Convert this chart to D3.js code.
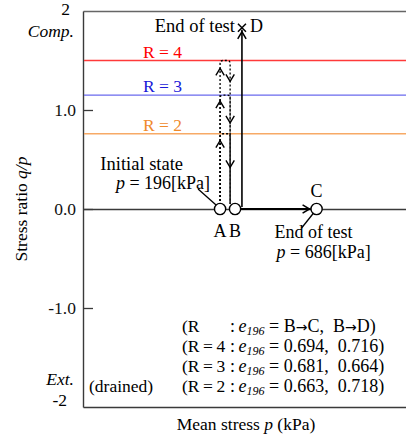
<!DOCTYPE html>
<html><head><meta charset="utf-8">
<script src="https://cdn.jsdelivr.net/npm/d3@7"></script>
<style>
html,body{margin:0;padding:0;background:#fff;}
svg{display:block;font-family:"Liberation Serif","Times New Roman",serif;}
text{white-space:pre;}
</style></head>
<body><svg id="c" width="406" height="439"></svg>
<script>
// ---------------- data ----------------
const yTickValues = [1.0, 0.0, -1.0];
const yTickLabels = ["1.0", "0.0", "-1.0"];
const rLabels = ["R = 4", "R = 3", "R = 2"];
const rStressRatio = [1.5, 1.15, 0.76];
const rTextColors = ["#ff0000", "#1a1ad8", "#f08a2c"];
const rLineColors = ["#ff3a3a", "#6a6aee", "#f7aa66"];
// schematic mean-stress positions (kPa)
const pointNames = ["A", "B", "C"];
const pointP = [196, 272, 686];
const pointQP = [0, 0, 0];
const dottedUpP = 196, dottedDownP = 247;        // cyclic loading paths (A -> R level -> B)
const upArrowQP = [1.42, 1.09, 0.69];
const downArrowQP = [1.29, 0.87, 0.42];
const pathD_P = 307, pathD_QP = 1.83;             // B -> D (end of test)
const legendPrefix = ["(R", "(R\u2009=\u20094", "(R\u2009=\u20093", "(R\u2009=\u20092"];
const legendValues = [["B|C,", "B|D)"], ["0.694,", "0.716)"], ["0.681,", "0.664)"], ["0.663,", "0.718)"]];

// ---------------- layout ----------------
const svg = d3.select("#c");
const L = 83, R = 406, T = 11, B = 407;
const x = d3.scaleLinear().domain([-500, 1140]).range([L, R]);
const y = d3.scaleLinear().domain([-2, 2]).range([B, T]);
const FS = 17.5;
const axisCol = "#3a3a3a";

// borders / axes
svg.append("g").attr("transform", `translate(0,${T})`)
  .call(d3.axisTop(x).tickValues([]).tickSizeOuter(0))
  .select(".domain").attr("stroke", "#666").attr("stroke-width", 1.6);
svg.append("g").attr("transform", `translate(0,${B})`)
  .call(d3.axisBottom(x).tickValues([]).tickSizeOuter(0))
  .select(".domain").attr("stroke", axisCol).attr("stroke-width", 1.4);
svg.append("g").attr("transform", `translate(0,${y(0)})`)
  .call(d3.axisBottom(x).tickValues([]).tickSizeOuter(0))
  .select(".domain").attr("stroke", axisCol).attr("stroke-width", 1.3);
const ya = svg.append("g").attr("transform", `translate(${L},0)`)
  .call(d3.axisLeft(y).tickValues(yTickValues).tickFormat((d, i) => yTickLabels[i])
    .tickSizeInner(-10).tickSizeOuter(0).tickPadding(7));
ya.select(".domain").attr("stroke", axisCol).attr("stroke-width", 1.4);
ya.selectAll(".tick line").attr("stroke", axisCol).attr("stroke-width", 1.3);
ya.selectAll(".tick text").attr("font-size", FS).attr("font-family", "Liberation Serif").attr("fill", "#111");

// extreme labels
svg.append("text").attr("x", 70).attr("y", y(2) + 4).attr("text-anchor", "end").attr("font-size", FS).text("2");
svg.append("text").attr("x", 74).attr("y", y(2) + 26).attr("text-anchor", "end").attr("font-size", FS).attr("font-style", "italic").text("Comp.");
svg.append("text").attr("x", 74).attr("y", y(-2) - 22).attr("text-anchor", "end").attr("font-size", FS).attr("font-style", "italic").text("Ext.");
svg.append("text").attr("x", 67).attr("y", y(-2) - 1).attr("text-anchor", "end").attr("font-size", FS).text("-2");

// axis titles
const yt = svg.append("text").attr("transform", `translate(27,${y(0)}) rotate(-90)`)
  .attr("text-anchor", "middle").attr("font-size", FS);
yt.append("tspan").text("Stress ratio ");
yt.append("tspan").attr("font-style", "italic").text("q/p");
const xt = svg.append("text").attr("x", 246).attr("y", 430).attr("text-anchor", "middle").attr("font-size", FS);
xt.append("tspan").text("Mean stress ");
xt.append("tspan").attr("font-style", "italic").text("p");
xt.append("tspan").text(" (kPa)");

// R levels
rStressRatio.forEach((v, i) => {
  svg.append("line").attr("x1", L + 1).attr("x2", R).attr("y1", y(v)).attr("y2", y(v))
    .attr("stroke", rLineColors[i]).attr("stroke-width", 1.3);
  svg.append("text").attr("x", 143).attr("y", y(v) - 3).attr("font-size", FS)
    .attr("fill", rTextColors[i]).text(rLabels[i]);
});

// chevron arrow helper
function chevron(tx, ty, dir, sw) {
  const a = 7, h = 4.2;
  let pts;
  if (dir === "up") pts = [[tx - h, ty + a], [tx, ty], [tx + h, ty + a]];
  else if (dir === "down") pts = [[tx - h, ty - a], [tx, ty], [tx + h, ty - a]];
  else pts = [[tx - a, ty - h], [tx, ty], [tx - a, ty + h]];
  svg.append("path").attr("d", d3.line()(pts)).attr("fill", "none")
    .attr("stroke", "#000").attr("stroke-width", sw || 1.4);
}

// cyclic dotted paths, one per R level
const xu = x(dottedUpP), xd = x(dottedDownP), y0 = y(0);
rStressRatio.forEach(v => {
  const yr = y(v);
  const p = d3.path();
  p.moveTo(xu, y0 - 4);
  p.lineTo(xu, yr + 3);
  p.quadraticCurveTo(xu, yr, xu + 3, yr);
  p.lineTo(xd - 3, yr);
  p.quadraticCurveTo(xd, yr, xd, yr + 3);
  p.lineTo(xd, y0 - 5);
  svg.append("path").attr("d", p.toString()).attr("fill", "none")
    .attr("stroke", "#000").attr("stroke-width", 1.3).attr("stroke-dasharray", "2,2");
});
upArrowQP.forEach(v => chevron(xu, y(v), "up"));
downArrowQP.forEach(v => chevron(xd, y(v), "down"));

// B -> D solid path
const xD = x(pathD_P), yD = y(pathD_QP);
svg.append("line").attr("x1", xD).attr("x2", xD).attr("y1", y0 - 2).attr("y2", yD + 2)
  .attr("stroke", "#000").attr("stroke-width", 1.6);
chevron(xD, yD + 4, "up", 1.5);
svg.append("path").attr("d", `M${xD - 4},${yD - 4}L${xD + 4},${yD + 4}M${xD + 4},${yD - 4}L${xD - 4},${yD + 4}`)
  .attr("stroke", "#000").attr("stroke-width", 1.5);
svg.append("text").attr("x", xD - 7).attr("y", yD + 4).attr("text-anchor", "end").attr("font-size", 18.5).text("End of test");
svg.append("text").attr("x", xD + 8).attr("y", yD + 4).attr("font-size", 18).text("D");

// B -> C thick path
const xB = x(pointP[1]), xC = x(pointP[2]);
svg.append("line").attr("x1", xB + 5).attr("x2", xC - 6).attr("y1", y0).attr("y2", y0)
  .attr("stroke", "#000").attr("stroke-width", 2.2);
chevron(xC - 7, y0, "right", 1.5);

// points
const r = 5.6;
pointNames.forEach((n, i) => {
  svg.append("circle").attr("cx", x(pointP[i])).attr("cy", y(pointQP[i])).attr("r", r)
    .attr("fill", "#fff").attr("stroke", "#000").attr("stroke-width", 1.4);
});
svg.append("text").attr("x", x(pointP[0])).attr("y", y0 + 28).attr("text-anchor", "middle").attr("font-size", 18).text("A");
svg.append("text").attr("x", x(pointP[1])).attr("y", y0 + 28).attr("text-anchor", "middle").attr("font-size", 18).text("B");
svg.append("text").attr("x", x(pointP[2])).attr("y", y0 - 12).attr("text-anchor", "middle").attr("font-size", 18).text("C");

// annotations: initial state
const xA = x(pointP[0]);
svg.append("line").attr("x1", xA - 22).attr("y1", y0 - 20).attr("x2", xA - 4).attr("y2", y0 - 4)
  .attr("stroke", "#000").attr("stroke-width", 1.3);
svg.append("text").attr("x", xA - 37).attr("y", y0 - 39).attr("text-anchor", "end").attr("font-size", 18.5).text("Initial state");
const t1 = svg.append("text").attr("x", xA - 10).attr("y", y0 - 20).attr("text-anchor", "end").attr("font-size", 18);
t1.append("tspan").attr("font-style", "italic").text("p");
t1.append("tspan").text(" = 196[kPa]");

// annotations: end of test at C
svg.append("line").attr("x1", xC - 3).attr("y1", y0 + 4).attr("x2", xC - 15).attr("y2", y0 + 19)
  .attr("stroke", "#000").attr("stroke-width", 1.3);
svg.append("text").attr("x", xC - 42).attr("y", y0 + 29).attr("font-size", 18).text("End of test");
const t2 = svg.append("text").attr("x", xC - 40).attr("y", y0 + 49).attr("font-size", 18);
t2.append("tspan").attr("font-style", "italic").text("p");
t2.append("tspan").text(" = 686[kPa]");

// legend block
const legY0 = 332, legDy = 20, legX = 182, colonX = 230;
function addValueSpan(t, s) {
  const parts = s.split("|");
  if (parts.length === 1) { t.append("tspan").text(s); return; }
  t.append("tspan").text(parts[0]);
  t.append("tspan").attr("font-family", "DejaVu Sans").attr("font-size", 14).text("\u2192");
  t.append("tspan").text(parts[1]);
}
legendPrefix.forEach((s, i) => {
  const yy = legY0 + i * legDy;
  svg.append("text").attr("x", legX).attr("y", yy).attr("font-size", FS).text(s);
  const t = svg.append("text").attr("x", colonX).attr("y", yy).attr("font-size", 18);
  t.append("tspan").text(":\u2009");
  t.append("tspan").attr("font-style", "italic").text("e");
  t.append("tspan").attr("font-style", "italic").attr("font-size", 12).attr("dy", 3).text("196");
  t.append("tspan").attr("dy", -3).text(" = ");
  addValueSpan(t, legendValues[i][0]);
  t.append("tspan").text("  ");
  addValueSpan(t, legendValues[i][1]);
});
svg.append("text").attr("x", 89).attr("y", legY0 + 3 * legDy).attr("font-size", FS).text("(drained)");
</script></body></html>
